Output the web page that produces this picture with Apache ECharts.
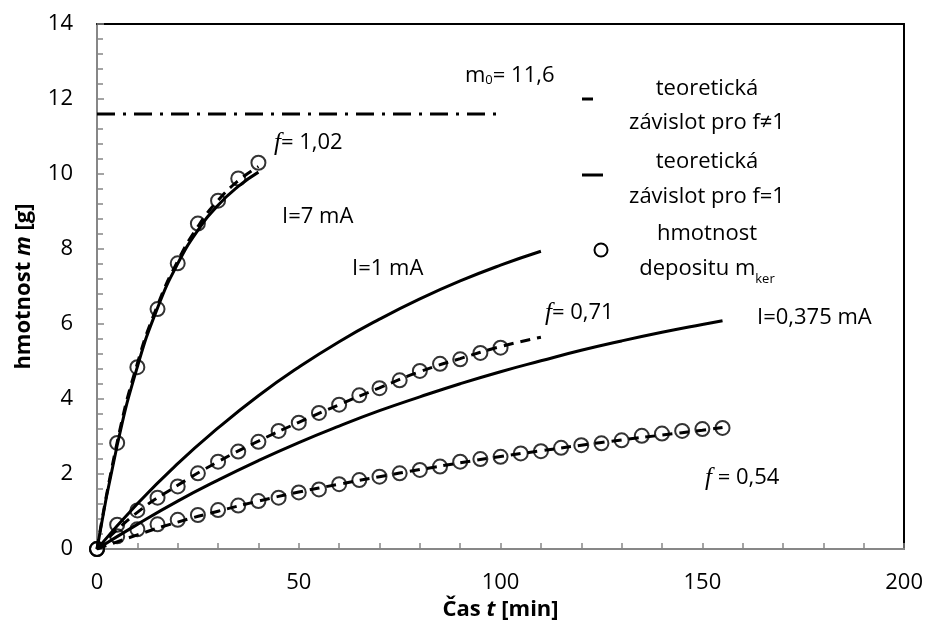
<!DOCTYPE html>
<html>
<head>
<meta charset="utf-8">
<script src="https://cdn.jsdelivr.net/npm/echarts@6/dist/echarts.min.js"></script>
<style>html,body{margin:0;padding:0;background:#fff}#c{width:926px;height:626px}</style>
</head>
<body>
<div id="c"></div>
<script>
// ---- measured data (I = 7 mA) ----
const t7 = [0, 5, 10, 15, 20, 25, 30, 35, 40];
const m7 = [0, 2.83, 4.85, 6.4, 7.62, 8.68, 9.29, 9.88, 10.3];
// ---- measured data (I = 1 mA) ----
const t1 = [0, 5, 10, 15, 20, 25, 30, 35, 40, 45, 50, 55, 60, 65, 70, 75, 80, 85, 90, 95, 100];
const m1 = [0, 0.65, 1.03, 1.37, 1.67, 2.02, 2.33, 2.6, 2.86, 3.15, 3.37, 3.63, 3.85, 4.1, 4.29, 4.5, 4.75, 4.94, 5.06, 5.23, 5.37];
// ---- measured data (I = 0,375 mA) ----
const t0375 = [0, 5, 10, 15, 20, 25, 30, 35, 40, 45, 50, 55, 60, 65, 70, 75, 80, 85, 90, 95, 100, 105, 110, 115, 120, 125, 130, 135, 140, 145, 150, 155];
const m0375 = [0, 0.34, 0.53, 0.66, 0.78, 0.91, 1.04, 1.16, 1.28, 1.37, 1.51, 1.59, 1.73, 1.84, 1.93, 2.02, 2.11, 2.2, 2.33, 2.4, 2.46, 2.55, 2.61, 2.7, 2.77, 2.82, 2.9, 3.02, 3.08, 3.15, 3.2, 3.23];

// ---- theoretical curves, f = 1 (solid) ----
const solid7T = [0, 5, 10, 15, 20, 25, 30, 35, 40];
const solid7M = [0, 2.77, 4.86, 6.43, 7.61, 8.5, 9.17, 9.67, 10.05];
const solid1T = [0, 10, 20, 30, 40, 50, 60, 70, 80, 90, 100, 110];
const solid1M = [0, 1.21, 2.28, 3.23, 4.09, 4.85, 5.53, 6.13, 6.67, 7.15, 7.57, 7.94];
const solid0375T = [0, 10, 20, 30, 40, 50, 60, 70, 80, 90, 100, 110, 120, 130, 140, 150, 155];
const solid0375M = [0, 0.66, 1.28, 1.84, 2.36, 2.84, 3.28, 3.69, 4.06, 4.41, 4.73, 5.02, 5.3, 5.55, 5.78, 5.99, 6.09];

// ---- theoretical curves, f != 1 (dashed) ----
const dash7T = [0, 5, 10, 15, 20, 25, 30, 35, 40];
const dash7M = [0, 2.85, 4.95, 6.5, 7.68, 8.6, 9.3, 9.82, 10.2];
const dash1T = [0, 10, 20, 30, 40, 50, 60, 70, 80, 90, 100, 110];
const dash1M = [0, 0.98, 1.7, 2.33, 2.88, 3.38, 3.85, 4.3, 4.73, 5.08, 5.4, 5.65];
const dash0375T = [0, 10, 20, 30, 40, 50, 60, 70, 80, 90, 100, 110, 120, 130, 140, 150, 155];
const dash0375M = [0, 0.38, 0.72, 1.01, 1.28, 1.52, 1.73, 1.93, 2.12, 2.3, 2.47, 2.62, 2.77, 2.91, 3.04, 3.17, 3.24];

// ---- limit m0 ----
const m0T = [0, 100];
const m0Value = 11.6;

// ---- axis ticks ----
const xTicks = { min: 0, max: 200, interval: 50 };
const yTicks = { min: 0, max: 14, interval: 2 };

function pairs(ts, ms) { return ts.map((t, i) => [t, ms[i]]); }

const FONT = 'Open Sans';
const solidStyle = { color: '#000', width: 3 };
const dashStyle = { color: '#000', width: 3, type: [10, 7] };

function lineSeries(ts, ms, style) {
  return { type: 'line', data: pairs(ts, ms), symbol: 'none', smooth: 0.5, lineStyle: style, z: 2, silent: true };
}
function dotSeries(ts, ms) {
  return { type: 'scatter', data: pairs(ts, ms), symbol: 'circle', symbolSize: 14,
    itemStyle: { color: 'rgba(255,255,255,0)', borderColor: '#000', borderWidth: 2 }, z: 3, silent: true };
}

const chart = echarts.init(document.getElementById('c'), null, { renderer: 'canvas' });
const axisGray = '#878787';
const txt = { fontFamily: FONT, fontSize: 22, color: '#000' };
const subRich = { fontFamily: FONT, fontSize: 13, fill: '#000', verticalAlign: 'bottom', padding: [4, 0, 0, 0] };
const italicF = { fontFamily: 'Liberation Serif', fontStyle: 'italic', fontSize: 25, fill: '#000' };

chart.setOption({
  animation: false,
  backgroundColor: '#fff',
  grid: { left: 97, right: 21, top: 24, bottom: 75, containLabel: false },
  xAxis: [{
    type: 'value', min: xTicks.min, max: xTicks.max, interval: xTicks.interval,
    axisLine: { show: true, lineStyle: { color: axisGray, width: 2 } },
    axisTick: { show: true, inside: true, length: 6, lineStyle: { color: axisGray, width: 1.5 } },
    minorTick: { show: true, splitNumber: 5, length: 6, lineStyle: { color: axisGray, width: 1.5 } },
    splitLine: { show: false },
    axisLabel: Object.assign({ margin: 23 }, txt),
    name: 'Čas {i|t} [min]', nameLocation: 'middle', nameGap: 46,
    nameTextStyle: { fontFamily: FONT, fontSize: 22, fontWeight: 'bold', color: '#000',
      rich: { i: { fontFamily: FONT, fontSize: 22, fontWeight: 'bold', fontStyle: 'italic', color: '#000' } } }
  }, {
    type: 'value', position: 'top', min: xTicks.min, max: xTicks.max,
    axisLine: { show: true, onZero: false, lineStyle: { color: '#000', width: 2 } },
    axisTick: { show: false }, axisLabel: { show: false }, splitLine: { show: false }
  }],
  yAxis: [{
    type: 'value', min: yTicks.min, max: yTicks.max, interval: yTicks.interval,
    axisLine: { show: true, lineStyle: { color: axisGray, width: 2 } },
    axisTick: { show: true, inside: true, length: 7, lineStyle: { color: axisGray, width: 1.5 } },
    minorTick: { show: true, splitNumber: 5, length: 6, lineStyle: { color: axisGray, width: 1.5 } },
    splitLine: { show: false },
    axisLabel: Object.assign({ margin: 24 }, txt),
    name: 'hmotnost {i|m} [g]', nameLocation: 'middle', nameGap: 62, nameRotate: 90,
    nameTextStyle: { fontFamily: FONT, fontSize: 22, fontWeight: 'bold', color: '#000',
      rich: { i: { fontFamily: FONT, fontSize: 22, fontWeight: 'bold', fontStyle: 'italic', color: '#000' } } }
  }, {
    type: 'value', position: 'right', min: yTicks.min, max: yTicks.max,
    axisLine: { show: true, onZero: false, lineStyle: { color: '#000', width: 2 } },
    axisTick: { show: false }, axisLabel: { show: false }, splitLine: { show: false }
  }],
  series: [
    { type: 'line', data: m0T.map(t => [t, m0Value]), symbol: 'none',
      lineStyle: { color: '#000', width: 3, type: [18, 8, 3, 8] }, z: 2, silent: true },
    lineSeries(solid7T, solid7M, solidStyle),
    lineSeries(solid1T, solid1M, solidStyle),
    lineSeries(solid0375T, solid0375M, solidStyle),
    lineSeries(dash7T, dash7M, dashStyle),
    lineSeries(dash1T, dash1M, dashStyle),
    lineSeries(dash0375T, dash0375M, dashStyle),
    dotSeries(t7, m7),
    dotSeries(t1, m1),
    dotSeries(t0375, m0375)
  ],
  graphic: [
    // legend
    { type: 'line', shape: { x1: 582, y1: 99, x2: 593, y2: 99 }, style: { stroke: '#000', lineWidth: 3 } },
    { type: 'line', shape: { x1: 582, y1: 175, x2: 603, y2: 175 }, style: { stroke: '#000', lineWidth: 3 } },
    { type: 'circle', shape: { cx: 601, cy: 250, r: 6.5 }, style: { fill: 'none', stroke: '#000', lineWidth: 2 } },
    { type: 'text', x: 707, y: 106, style: { text: 'teoretická\nzávislot pro f≠1', fontFamily: FONT, fontSize: 22, fill: '#000', align: 'center', verticalAlign: 'middle', lineHeight: 34 } },
    { type: 'text', x: 707, y: 179, style: { text: 'teoretická\nzávislot pro f=1', fontFamily: FONT, fontSize: 22, fill: '#000', align: 'center', verticalAlign: 'middle', lineHeight: 35 } },
    { type: 'text', x: 707, y: 251, style: { text: 'hmotnost\ndepositu m{s|ker}', fontFamily: FONT, fontSize: 22, fill: '#000', align: 'center', verticalAlign: 'middle', lineHeight: 35,
      rich: { s: subRich } } },
    // annotations
    { type: 'text', x: 465, y: 76, style: { text: 'm{s|0}= 11,6', fontFamily: FONT, fontSize: 22, fill: '#000', verticalAlign: 'middle', rich: { s: subRich } } },
    { type: 'text', x: 274, y: 143, style: { text: '{i|f}= 1,02', fontFamily: FONT, fontSize: 22, fill: '#000', verticalAlign: 'middle', rich: { i: italicF } } },
    { type: 'text', x: 282, y: 217, style: { text: 'I=7 mA', fontFamily: FONT, fontSize: 22, fill: '#000', verticalAlign: 'middle' } },
    { type: 'text', x: 352, y: 269, style: { text: 'I=1 mA', fontFamily: FONT, fontSize: 22, fill: '#000', verticalAlign: 'middle' } },
    { type: 'text', x: 545, y: 313, style: { text: '{i|f}= 0,71', fontFamily: FONT, fontSize: 22, fill: '#000', verticalAlign: 'middle', rich: { i: italicF } } },
    { type: 'text', x: 757, y: 318, style: { text: 'I=0,375 mA', fontFamily: FONT, fontSize: 22, fill: '#000', verticalAlign: 'middle' } },
    { type: 'text', x: 705, y: 478, style: { text: '{i|f} = 0,54', fontFamily: FONT, fontSize: 22, fill: '#000', verticalAlign: 'middle', rich: { i: italicF } } }
  ]
});
</script>
</body>
</html>
